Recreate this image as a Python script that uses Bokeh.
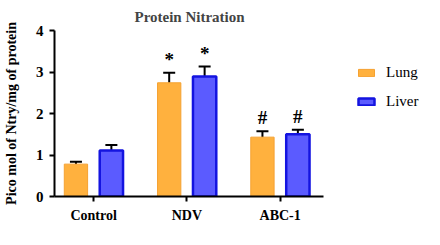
from bokeh.plotting import figure
from bokeh.models import ColumnDataSource, Range1d, FixedTicker, Whisker, TeeHead, Legend, LegendItem
from bokeh.core.properties import value
from bokeh.embed import file_html
from bokeh.resources import INLINE

categories = ["Control", "NDV", "ABC-1"]
lung = [0.78, 2.74, 1.43]
lung_err = [0.06, 0.24, 0.14]
liver = [1.11, 2.89, 1.50]
liver_err = [0.13, 0.24, 0.11]
marks = ["", "*", "#"]
y_ticks = [0, 1, 2, 3, 4]

SERIF = "Liberation Serif"
LUNG_FILL = "#FFB13E"
LUNG_LINE = "#F5A232"
LIVER_FILL = "#5B5BFF"
LIVER_LINE = "#1414E0"

x = list(range(len(categories)))
dodge = 0.19
bw = 0.25

p = figure(width=424, height=229, output_backend="svg", toolbar_location=None,
           x_range=Range1d(-0.42, 3.548), y_range=Range1d(0, 4),
           min_border_left=49, min_border_right=0, min_border_top=26, min_border_bottom=33,
           title="Protein Nitration")
p.outline_line_color = None
p.grid.visible = False
p.background_fill_color = "white"
p.border_fill_color = "white"

p.title.text_font = SERIF
p.title.text_font_size = "15px"
p.title.text_font_style = "bold"
p.title.align = "left"
p.title.offset = 80
p.title.standoff = 12

src_lung = ColumnDataSource(dict(x=[v - dodge for v in x], top=lung,
                                 up=[a + b for a, b in zip(lung, lung_err)]))
src_liver = ColumnDataSource(dict(x=[v + dodge for v in x], top=liver,
                                  up=[a + b for a, b in zip(liver, liver_err)]))

r_lung = p.vbar(x="x", top="top", width=bw, source=src_lung, fill_color=LUNG_FILL,
                line_color=LUNG_LINE, line_width=1)
r_liver = p.vbar(x="x", top="top", width=bw, source=src_liver, fill_color=LIVER_FILL,
                 line_color=LIVER_LINE, line_width=2.5)

for src in (src_lung, src_liver):
    w = Whisker(base="x", lower="top", upper="up", source=src, dimension="height",
                line_color="black", line_width=2, lower_head=None,
                upper_head=TeeHead(size=12, line_color="black", line_width=2))
    p.add_layout(w)

mark_src_lung = ColumnDataSource(dict(x=[v - dodge for v in x],
                                      y=[a + b for a, b in zip(lung, lung_err)], t=marks))
mark_src_liver = ColumnDataSource(dict(x=[v + dodge for v in x],
                                       y=[a + b for a, b in zip(liver, liver_err)], t=marks))
for ms in (mark_src_lung, mark_src_liver):
    p.text(x="x", y="y", text="t", source=ms, text_align="center", text_baseline="bottom",
           y_offset=-3, text_font=value(SERIF), text_font_size="19px",
           text_font_style="bold", text_color="black")

# axes
p.xaxis.ticker = FixedTicker(ticks=x)
p.xaxis.bounds = (-0.42, 2.47)
p.xaxis.major_label_overrides = {i: c for i, c in enumerate(categories)}
p.yaxis.ticker = FixedTicker(ticks=y_ticks)
for ax in (p.xaxis, p.yaxis):
    ax.axis_line_width = 2
    ax.axis_line_color = "black"
    ax.major_tick_line_width = 2
    ax.major_tick_line_color = "black"
    ax.major_tick_out = 5
    ax.major_tick_in = 0
    ax.minor_tick_line_color = None
    ax.major_label_text_font = SERIF
    ax.major_label_text_font_style = "bold"
    ax.major_label_text_color = "black"
    ax.major_label_standoff = 6
p.xaxis.major_label_text_font_size = "14px"
p.yaxis.major_label_text_font_size = "15px"
p.yaxis.axis_label = "Pico mol of Ntry/mg of protein"
p.yaxis.axis_label_text_font = SERIF
p.yaxis.axis_label_text_font_style = "bold"
p.yaxis.axis_label_text_font_size = "14px"
p.yaxis.axis_label_text_color = "black"
p.yaxis.axis_label_standoff = 14

legend = Legend(items=[LegendItem(label="Lung", renderers=[r_lung]),
                       LegendItem(label="Liver", renderers=[r_liver])],
                location=(302, 86), orientation="vertical", margin=0, padding=6,
                glyph_width=20, glyph_height=9, spacing=12,
                label_text_font=SERIF, label_text_font_style="normal",
                label_text_font_size="15px", label_standoff=10, label_text_color="black",
                border_line_color=None, background_fill_alpha=0)
p.add_layout(legend)

open("out.html", "w").write(file_html(p, INLINE))
